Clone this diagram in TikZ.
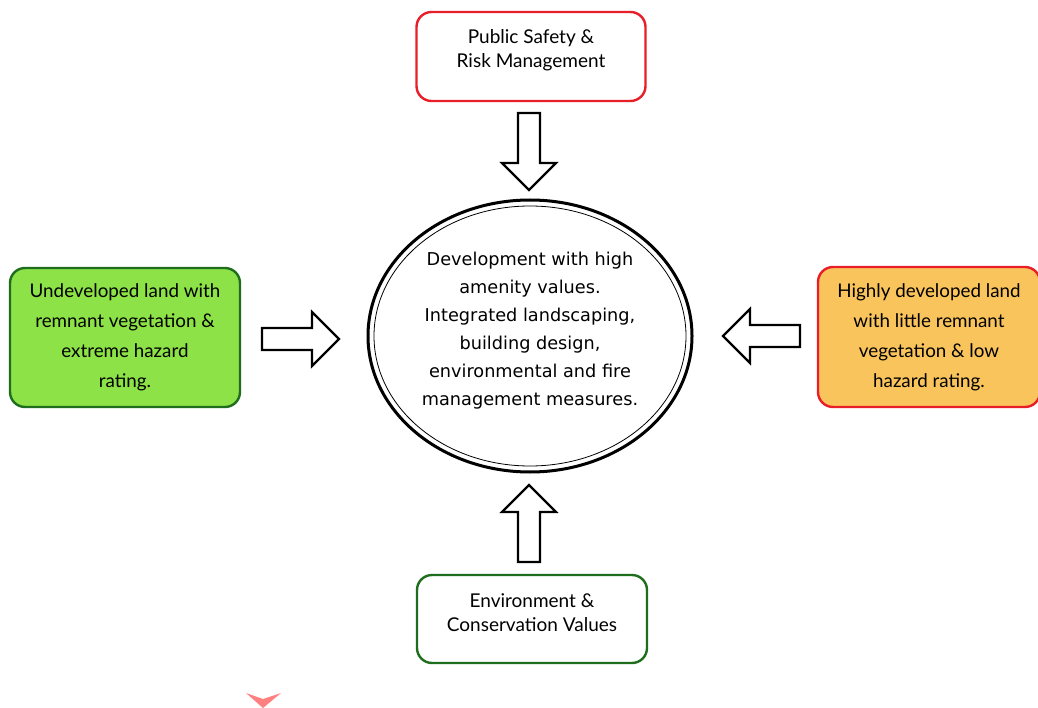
\documentclass[tikz,border=0pt]{standalone}
\usepackage{fontspec}
\setmainfont{Lato}
\newfontfamily\ellfont{DejaVu Sans}
\usetikzlibrary{shapes.geometric}
\definecolor{boxred}{RGB}{232,30,40}
\definecolor{boxgreen}{RGB}{30,110,30}
\definecolor{limefill}{RGB}{140,226,70}
\definecolor{orangefill}{RGB}{250,196,92}
\definecolor{markred}{RGB}{255,128,128}
\tikzset{
  box/.style={draw, rounded corners=15pt, line width=2.4pt, align=center, inner sep=0pt, font=\fontsize{18.8}{30}\selectfont},
  boxtext/.style={align=center, inner sep=0pt, font=\fontsize{19}{24}\selectfont},
  blockarrow/.pic={\draw[line width=2.2pt, fill=white, line join=miter] (0,-11) -- (50,-11) -- (50,-27) -- (77,0) -- (50,27) -- (50,11) -- (0,11) -- cycle;},
}
\begin{document}
\begin{tikzpicture}[x=1pt,y=-1pt]
\useasboundingbox[fill=white] (0,0) rectangle (1038,708);
% boxes
\node[box, draw=boxred, fill=white, minimum width=229pt, minimum height=89pt] (top) at (531,56.5) {};
\node[boxtext, yshift=6pt] (toptext) at (top.center) {Public Safety \&\\Risk Management};
\node[box, draw=boxgreen, fill=white, minimum width=230pt, minimum height=88pt] (bottom) at (532,619) {};
\node[boxtext, yshift=6pt] (bottomtext) at (bottom.center) {Environment \&\\Conservation Values};
\node[box, draw=boxgreen, fill=limefill, minimum width=230pt, minimum height=139pt] (left) at (125,337.5) {Undeveloped land with\\remnant vegetation \&\\extreme hazard\\rating.};
\node[box, draw=boxred, fill=orangefill, minimum width=222pt, minimum height=140pt] (right) at (929,337) {Highly developed land\\with little remnant\\vegetation \& low\\hazard rating.};
% centre ellipse
\node[ellipse, draw, line width=3pt, minimum width=324pt, minimum height=272pt, inner sep=0pt] (centre) at (530,336) {};
\draw[line width=0.8pt] (centre.center) ellipse [x radius=156pt, y radius=130pt];
\node[align=center, inner sep=0pt, font=\ellfont\fontsize{17.7}{28}\selectfont, yshift=5pt] (centretext) at (centre.center)
  {Development with high\\amenity values.\\Integrated landscaping,\\building design,\\environmental and fire\\management measures.};
% block arrows
\pic[rotate=-90] at (529,113) {blockarrow};
\pic[rotate=90] at (529,562) {blockarrow};
\pic at (262,339) {blockarrow};
\pic[rotate=180] at (800,336) {blockarrow};
% stray mark
\fill[markred] (246,693) -- (263,699) -- (281,693) -- (263,708) -- cycle;
\end{tikzpicture}
\end{document}
